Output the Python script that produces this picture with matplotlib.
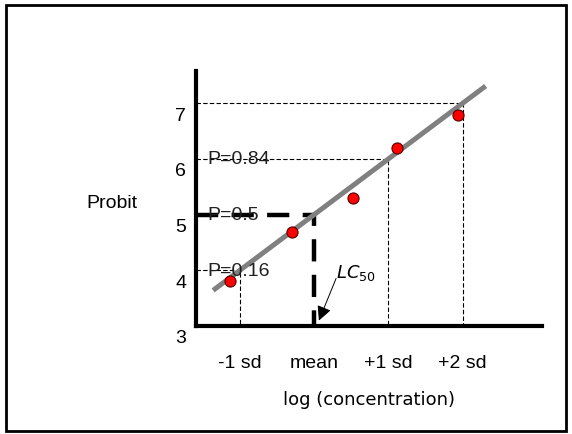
import matplotlib.pyplot as plt
import matplotlib.transforms as mtransforms
from matplotlib.patches import Rectangle

# data
sd_pos = [-1, 0, 1, 2]
sd_labels = ["-1 sd", "mean", "+1 sd", "+2 sd"]
probit_ticks = [3, 4, 5, 6, 7]
pt_x = [-1.13, -0.30, 0.52, 1.12, 1.94]
pt_y = [3.81, 4.69, 5.30, 6.20, 6.79]
fit_x = [-1.36, 2.31]
fit_y = [3.64, 7.31]
p_labels = ["P=0.16", "P=0.5", "P=0.84"]
p_levels = [4, 5, 6]

fig = plt.figure(figsize=(5.72, 4.35), dpi=100)
fig.patches.append(Rectangle((0.011, 0.007), 0.979, 0.979, transform=fig.transFigure,
                             fill=False, edgecolor="black", linewidth=2))

ax = fig.add_axes([0.3427, 0.2483, 0.605, 0.5862])
ax.set_xlim(-1.59, 3.07)
ax.set_ylim(3, 7.58)

for s in ["top", "right"]:
    ax.spines[s].set_visible(False)
for s in ["left", "bottom"]:
    ax.spines[s].set_linewidth(3)

# thin dashed guides
ax.plot([-1.59, -1, -1], [4, 4, 3], color="black", lw=0.8, ls=(0, (4, 2)))
ax.plot([-1.59, 1, 1], [6, 6, 3], color="black", lw=0.8, ls=(0, (4, 2)))
ax.plot([-1.59, 2, 2], [7, 7, 3], color="black", lw=0.8, ls=(0, (4, 2)))

# thick dashed mean guide
ax.plot([-1.59, 0, 0], [5, 5, 3], color="black", lw=3.2, ls=(0, (5, 3)),
        solid_capstyle="butt", dash_capstyle="butt")

# fitted line
ax.plot(fit_x, fit_y, color="#808080", lw=3.6, solid_capstyle="butt")

# observed points
ax.plot(pt_x, pt_y, "o", color="red", markersize=8, markeredgecolor="#500000",
        markeredgewidth=0.8, zorder=5)

for lab, lev in zip(p_labels, p_levels):
    ax.text(-1.44, lev, lab, fontsize=14, family="Liberation Sans",
            va="center", ha="left", color="#202020")

ax.annotate("", xy=(0.05, 3.05), xytext=(0.31, 3.9),
            arrowprops=dict(arrowstyle="-|>", color="black", lw=0.7,
                            mutation_scale=22))
ax.text(0.29, 3.97, r"$\mathit{LC}_{50}$", fontsize=13, va="center", ha="left")

ax.set_xticks(sd_pos)
ax.set_xticklabels(sd_labels, fontsize=14, family="Liberation Sans")
ax.set_yticks(probit_ticks)
ax.set_yticklabels([str(v) for v in probit_ticks], fontsize=14, family="Liberation Sans")
ax.tick_params(axis="x", length=0, pad=20)
ax.tick_params(axis="y", length=0, pad=7)

off = mtransforms.ScaledTranslation(0, -10 / 100, fig.dpi_scale_trans)
for lbl in ax.get_yticklabels():
    lbl.set_transform(lbl.get_transform() + off)

ax.set_xlabel("log (concentration)", fontsize=13, labelpad=14)
ax.set_ylabel("Probit", fontsize=14, family="Liberation Sans", rotation=0,
              va="center", ha="center")
ax.yaxis.set_label_coords(-0.244, 0.486)

fig.savefig("out.png", dpi=100)
